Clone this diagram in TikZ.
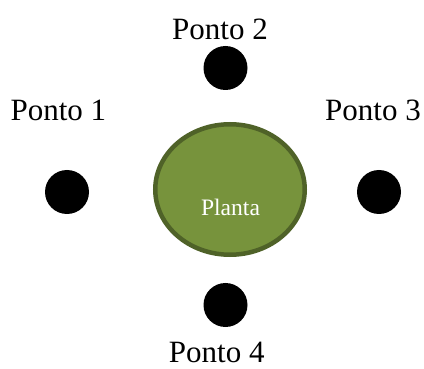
\documentclass[tikz,border=0pt]{standalone}
\usepackage{fontspec}
\setmainfont{Liberation Serif}
\usetikzlibrary{shapes.geometric}
\definecolor{plantfill}{HTML}{77933C}
\definecolor{plantedge}{HTML}{4F6228}
\tikzset{
  ponto/.style={circle, fill=black, inner sep=0pt, minimum size=44pt},
  pontolabel/.style={anchor=base, inner sep=0pt, font=\fontsize{31}{31}\selectfont},
  planta/.style={ellipse, fill=plantfill, draw=plantedge, line width=4.5pt,
    minimum width=149.5pt, minimum height=130.5pt, inner sep=0pt},
  plantalabel/.style={anchor=base, inner sep=0pt, text=white, font=\fontsize{23.6}{23.6}\selectfont}
}
\begin{document}
\begin{tikzpicture}[x=1pt,y=-1pt]
  \useasboundingbox (0,0) rectangle (424,369);
  \node[planta] (pl) at (230,189.5) {};
  \node[plantalabel] (pltext) at (230.5,216) {Planta};
  \node[ponto] (p1) at (67,192) {};
  \node[ponto] (p2) at (225.5,68) {};
  \node[ponto] (p3) at (379,192) {};
  \node[ponto] (p4) at (225.5,305) {};
  \node[pontolabel] (l1) at (58.4,120.7) {Ponto 1};
  \node[pontolabel] (l2) at (220,39.3) {Ponto 2};
  \node[pontolabel] (l3) at (373,120.7) {Ponto 3};
  \node[pontolabel] (l4) at (216.7,362.5) {Ponto 4};
\end{tikzpicture}
\end{document}
